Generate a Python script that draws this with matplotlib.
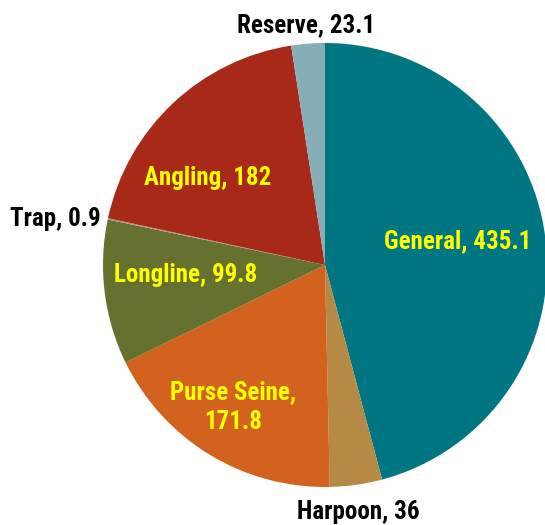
import numpy as np
import matplotlib
matplotlib.use("Agg")
import matplotlib.pyplot as plt
from matplotlib.transforms import offset_copy

categories = ["General", "Harpoon", "Purse Seine", "Longline", "Trap", "Angling", "Reserve"]
values = [435.1, 36, 171.8, 99.8, 0.9, 182, 23.1]
label_texts = ["General, 435.1", "Harpoon, 36", "Purse Seine,\n171.8", "Longline, 99.8",
               "Trap, 0.9", "Angling, 182", "Reserve, 23.1"]
colors = ["#007682", "#B48A45", "#D3621F", "#66712F", "#B09090", "#A82917", "#85AEB8"]
label_colors = ["#FFFF00", "black", "#FFFF00", "#FFFF00", "black", "#FFFF00", "black"]
label_dist = [0.61, 1.113, 0.755, 0.63, 1.233, 0.662, 1.093]
label_angle_off = [3.4, -0.4, -1.9, -3.8, 2.0, 9.5, 0.1]

plt.rcParams['font.family'] = ['Roboto Condensed', 'Liberation Sans', 'DejaVu Sans']

fig = plt.figure(figsize=(5.45, 5.25), dpi=100)
ax = fig.add_axes([103/545, 38/525, 444/545, 444/525])
wedges, _ = ax.pie(values, colors=colors, startangle=90, counterclock=False,
                   radius=1.0, wedgeprops=dict(linewidth=0))
ax.set_xlim(-1, 1)
ax.set_ylim(-1, 1)
ax.set_aspect('equal')
ax.axis('off')

tr = offset_copy(ax.transData, fig=fig, x=0, y=-2, units='dots')
for w, txt, col, d, off in zip(wedges, label_texts, label_colors, label_dist, label_angle_off):
    mid = np.deg2rad((w.theta1 + w.theta2) / 2 + off)
    ax.text(d * np.cos(mid), d * np.sin(mid), txt, ha='center', va='center',
            color=col, fontsize=18, fontweight='bold', linespacing=1.35,
            clip_on=False, transform=tr)

fig.savefig("out.png", dpi=100)
